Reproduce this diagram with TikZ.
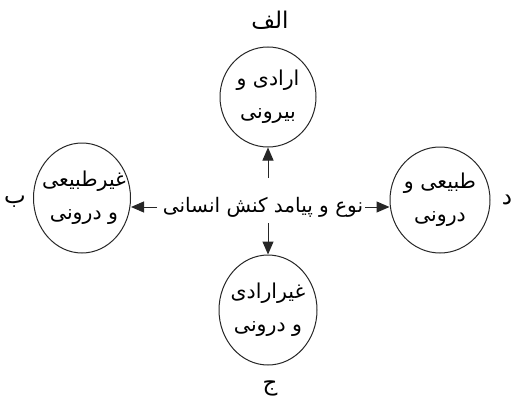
\documentclass[tikz,border=0pt]{standalone}
\usepackage{fontspec}
\usetikzlibrary{shapes.geometric,arrows.meta}
\TeXXeTstate=1
\newfontfamily\arabicfont[Script=Arabic]{DejaVu Sans}
\begin{document}
\begin{tikzpicture}[x=1pt,y=-1pt,
  bub/.style={ellipse, draw=black!85, line width=1pt, inner sep=0pt},
  btxt/.style={align=center, inner sep=0pt, font=\arabicfont\fontsize{20.5}{33}\selectfont},
  lbl/.style={font=\arabicfont\fontsize{23}{26}\selectfont, inner sep=0pt},
  ctr/.style={font=\arabicfont\fontsize{20}{24}\selectfont, inner sep=0pt},
  arr/.style={-{Triangle[length=13pt,width=11pt]}, line width=1pt, draw=black!85}]
\useasboundingbox (0,0) rectangle (526,409);
\node[bub, minimum width=96pt, minimum height=100pt] (t) at (268,97) {};
\node[btxt] (tt) at (t) {\beginR ارادی و\endR\\\beginR بیرونی\endR};
\node[bub, minimum width=97pt, minimum height=110pt] (l) at (82,198) {};
\node[btxt] (lt) at (84,198) {\beginR غیرطبیعی\endR\\\beginR و درونی\endR};
\node[bub, minimum width=100pt, minimum height=106pt] (r) at (440,200) {};
\node[btxt] (rt) at (r) {\beginR طبیعی و\endR\\\beginR درونی\endR};
\node[bub, minimum width=98pt, minimum height=110pt] (b) at (268,310) {};
\node[btxt] (bt) at (b) {\beginR غیرارادی\endR\\\beginR و درونی\endR};
\node[lbl] (la) at (270,20) {\beginR الف\endR};
\node[lbl] (lb) at (15,202) {\beginR ب\endR};
\node[lbl] (ld) at (507,200) {\beginR د\endR};
\node[lbl] (lj) at (270,388) {\beginR ج\endR};
\node[ctr] (c) at (263,207) {\beginR نوع و پیامد کنش انسانی\endR};
\coordinate (cu) at (268,178);
\coordinate (cd) at (268,223);
\coordinate (cl) at (157,207);
\coordinate (cr) at (365,207);
\draw[arr] (cu) -- (t.south);
\draw[arr] (cd) -- (b.north);
\draw[arr] (cl) -- (cl -| l.east);
\draw[arr] (cr) -- (cr -| r.west);
\end{tikzpicture}
\end{document}
